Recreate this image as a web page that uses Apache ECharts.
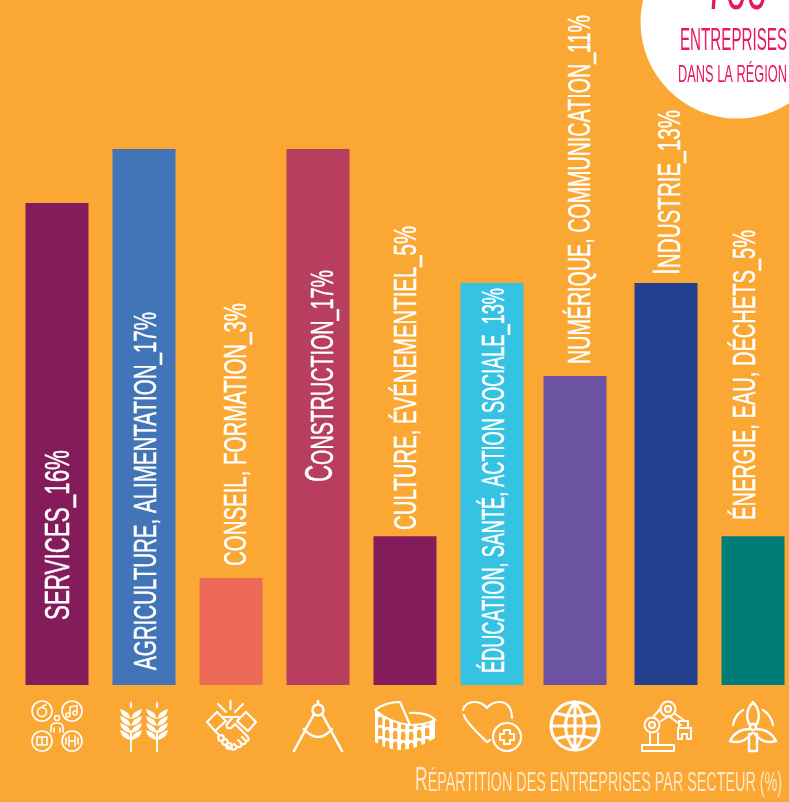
<!DOCTYPE html>
<html>
<head>
<meta charset="utf-8">
<style>
  html, body { margin: 0; padding: 0; background: #fba733; }
  #chart { width: 789px; height: 802px; }
</style>
<script src="https://cdn.jsdelivr.net/npm/echarts@6/dist/echarts.min.js"></script>
</head>
<body>
<div id="chart"></div>
<script>
var sectors = ['Services', 'Agriculture', 'Conseil', 'Construction', 'Culture', 'Éducation', 'Numérique', 'Industrie', 'Énergie'];
// drawn bar heights (the printed percentages are not proportional to them)
var barHeights = [15.29, 17, 3.39, 17, 4.72, 12.75, 9.8, 12.75, 4.72];
var labelBodies = ['SERVICES_16%', 'AGRICULTURE, ALIMENTATION_17%', 'CONSEIL, FORMATION_3%', 'ONSTRUCTION_17%', 'CULTURE, ÉVÉNEMENTIEL_5%', 'ÉDUCATION, SANTÉ, ACTION SOCIALE_13%', 'NUMÉRIQUE, COMMUNICATION_11%', 'NDUSTRIE_13%', 'ÉNERGIE, EAU, DÉCHETS_5%'];
var labelCaps = ['', '', '', 'C', '', '', '', 'I', ''];

var barColors = ['#841c5c', '#4274b8', '#ee6a58', '#b83e60', '#841c5c', '#35c2e3', '#6c53a1', '#233f8e', '#007c78'];
var barShift = [0, 0, 0, 0, 0, 0, -4, 0, 0];
var labelDx = [2.5, 3, 6, 3, 2, 3, 6, 2.5, -7];
var labelRaise = [65, 15, 119, 203, 155, 12, 321, 410, 165];
var labelSpan = [170, 358, 263, 212, 304, 385, 349, 165, 290];
var labelSize = [35, 32, 31, 32, 31, 32, 32, 31, 31];

var FONT = '"Liberation Sans Narrow", "Liberation Sans", sans-serif';
var BG = '#fba733';
var WHITE = '#ffffff';
var PINK = '#e8175d';

var measureCtx = document.createElement('canvas').getContext('2d');
function textWidth(str, size) {
    measureCtx.font = size + 'px ' + FONT;
    return measureCtx.measureText(str).width;
}

// icon helpers, coordinates are px inside a 50x50 box
function circ(x, y, r) {
    return 'M' + (x - r) + ' ' + y + 'A' + r + ' ' + r + ' 0 1 1 ' + (x + r) + ' ' + y + 'A' + r + ' ' + r + ' 0 1 1 ' + (x - r) + ' ' + y + 'Z';
}
function wheat(c) {
    var d = 'M' + c + ' 0Q' + (c + 2.5) + ' 4 ' + c + ' 8Q' + (c - 2.5) + ' 4 ' + c + ' 0Z';
    [9, 16, 23, 30].forEach(function (y) {
        d += 'M' + c + ' ' + (y + 9) + 'Q' + (c - 10) + ' ' + (y + 7) + ' ' + (c - 11) + ' ' + (y - 1) + 'Q' + (c - 2) + ' ' + (y + 1) + ' ' + c + ' ' + (y + 9) + 'Z';
        d += 'M' + c + ' ' + (y + 9) + 'Q' + (c + 10) + ' ' + (y + 7) + ' ' + (c + 11) + ' ' + (y - 1) + 'Q' + (c + 2) + ' ' + (y + 1) + ' ' + c + ' ' + (y + 9) + 'Z';
    });
    return d;
}
function arches() {
    var d = '';
    var columns = [-2, 5, 13, 21, 29, 37, 45];
    var drop = [-1, 1, 2, 3, 3, 1, -1];
    [17, 28, 39].forEach(function (y) {
        columns.forEach(function (x, c) {
            var top = y + drop[c];
            d += 'M' + x + ' ' + (top + 8) + 'V' + (top + 2) + 'A2.2 2.2 0 0 1 ' + (x + 4.4) + ' ' + (top + 2) + 'V' + (top + 8) + 'Z';
        });
    });
    return d;
}

var icons = [
    [
        { w: 1.6, line: circ(10, 10, 10) + circ(40, 10, 10) + circ(10, 40, 10) + circ(40, 40, 10) + circ(25, 17, 2.5) + 'M19 31V26Q19 22 25 22Q31 22 31 26V31M22 27V31M28 27V31' },
        { w: 1.6, line: circ(10, 11, 4.5) + 'M10 6.5Q11 4 14 4' },
        { w: 1.6, line: circ(36, 14, 2) + circ(43, 12, 2) + 'M38 14V6L45 4.5V12' },
        { w: 1.6, line: 'M10 36H5V44H10ZM10 36H15V44H10Z' },
        { w: 1.6, line: 'M34 37V43M46 37V43M37 35V45M43 35V45M37 40H43' }
    ],
    [
        { w: 2, line: 'M12 30V50M38 30V50' },
        { fill: wheat(12) + wheat(38) }
    ],
    [
        { w: 2.2, line: 'M24.5 0V8M12 3L20 11M37 3L29 11M1 21L11 11L20 20L9 30ZM50 21L40 11L31 20L42 30Z' },
        { w: 2.2, line: 'M17 16H27L21 23Q19 28 25 27L29 23L42 36Q44 40 40 40L36 36M40 40Q40 44 36 43L32 39M36 43Q35 47 31 46L28 43M31 46Q29 50 25 48L22 45M27 16H34' },
        { w: 2.2, line: 'M9 30L13 34' + circ(15, 37, 2.8) + circ(19, 41, 2.8) + circ(23, 45, 2.8) }
    ],
    [
        { w: 2.6, line: circ(25, 9, 5.5) + 'M25 0V3.5M21 13L1 50M29 13L49 50M11 28Q25 44 39 28' }
    ],
    [
        { fill: 'M-5 9Q10 22 30 24Q45 24 55 19V37Q35 50 18 49Q3 47 -5 41Z' },
        { hole: arches() },
        { w: 2.2, line: 'M-5 9Q5 1 20 1L30 24M30 12Q48 11 55 19M-5 9Q10 22 30 24Q45 24 55 19' }
    ],
    [
        { w: 2.2, line: 'M-3 14C-1 22 12 33 20 41L23 39M-4 9C-3 4 2 1 7 1C12 1 17 3 20 7C23 3 28 1 33 1C40 1 45 7 45 17' },
        { w: 2.2, line: circ(40, 36, 14) },
        { w: 2, line: 'M37 29H43V33H47V39H43V43H37V39H33V33H37Z' }
    ],
    [
        { w: 3, line: circ(25, 25, 24) + 'M25 1V49M1 25H49M5 12Q25 18 45 12M5 38Q25 32 45 38M25 1Q6 25 25 49M25 1Q44 25 25 49' }
    ],
    [
        { w: 2, line: 'M1 44H33V50H1ZM9 32V44M17 32V44' },
        { w: 2, line: circ(11, 24, 7.5) + circ(11, 24, 3) + circ(27, 8, 7.5) + circ(27, 8, 3) },
        { w: 2, line: 'M13 15L20 7M20 20L28 15M33 12L44 20M29 16L40 24M38 20H47V27H38ZM37 27V38H41V33H46V38H50V27Z' }
    ],
    [
        { w: 2.4, line: circ(25, 26, 3) + 'M25 1Q16 11 21 23H29Q34 11 25 1ZM22 28Q8 28 2 40Q15 44 24 32M28 28Q42 28 48 40Q35 44 26 32M21 33V50H29V33' },
        { w: 2.4, line: 'M5 24Q7 14 15 9M45 24Q43 14 35 9' }
    ]
];

function renderSector(params, api) {
    var i = api.value(0);
    var base = api.coord([i, 0]);
    var top = api.coord([i, api.value(1)]);
    var cx = base[0] + barShift[i];
    var size = labelSize[i];
    var cap = labelCaps[i];
    var width = textWidth(labelBodies[i], size) + (cap ? textWidth(cap, size * 1.2) : 0);
    var children = [{
        type: 'rect',
        shape: { x: cx - 31.5, y: top[1], width: 63, height: base[1] - top[1] },
        style: { fill: barColors[i] }
    }, {
        type: 'text',
        x: cx + labelDx[i],
        y: base[1] - labelRaise[i],
        rotation: Math.PI / 2,
        scaleX: labelSpan[i] / width,
        style: {
            text: (cap ? '{cap|' + cap + '}' : '') + '{body|' + labelBodies[i] + '}',
            rich: {
                cap: { fontFamily: FONT, fontSize: size * 1.2, fill: WHITE, stroke: WHITE, lineWidth: 0.5, verticalAlign: 'bottom' },
                body: { fontFamily: FONT, fontSize: size, fill: WHITE, stroke: WHITE, lineWidth: 0.5, verticalAlign: 'bottom' }
            },
            textAlign: 'left',
            textVerticalAlign: 'middle'
        }
    }];
    icons[i].forEach(function (part) {
        children.push({
            type: 'path',
            x: cx - 25,
            y: base[1] + 16,
            shape: { pathData: part.line || part.fill || part.hole },
            style: part.line
                ? { fill: 'none', stroke: WHITE, lineWidth: part.w, lineCap: 'round', lineJoin: 'round' }
                : { fill: part.fill ? WHITE : BG, stroke: 'none' }
        });
    });
    return { type: 'group', children: children };
}

var footBody = 'ÉPARTITION DES ENTREPRISES PAR SECTEUR (%)';

var myChart = echarts.init(document.getElementById('chart'), null, { width: 789, height: 802 });
myChart.setOption({
    animation: false,
    backgroundColor: BG,
    // 87 px between bar centres, first centre at 57
    grid: { left: 57, top: 149, width: 696, height: 536 },
    xAxis: { type: 'category', data: sectors, boundaryGap: false, show: false },
    yAxis: { type: 'value', min: 0, max: 17, show: false },
    series: [{
        type: 'custom',
        clip: false,
        renderItem: renderSector,
        encode: { x: 0, y: 1 },
        data: barHeights.map(function (v, i) { return [i, v]; })
    }],
    graphic: [
        { type: 'circle', shape: { cx: 737, cy: 22, r: 96.5 }, style: { fill: WHITE }, z: 10 },
        {
            type: 'text', x: 736, y: 22, z: 11, scaleX: 0.62,
            style: { text: '700', fontFamily: FONT, fontSize: 60, fill: PINK, textAlign: 'center', textVerticalAlign: 'bottom' }
        },
        {
            type: 'text', x: 680, y: 41, z: 11,
            scaleX: 107 / textWidth('ENTREPRISES', 31),
            style: { text: 'ENTREPRISES', fontFamily: FONT, fontSize: 31, fill: PINK, textAlign: 'left', textVerticalAlign: 'middle' }
        },
        {
            type: 'text', x: 678, y: 75, z: 11,
            scaleX: 109 / textWidth('DANS LA RÉGION', 24),
            style: { text: 'DANS LA RÉGION', fontFamily: FONT, fontSize: 24, fill: PINK, textAlign: 'left', textVerticalAlign: 'middle' }
        },
        {
            type: 'text', x: 415, y: 781, z: 11,
            scaleX: 367 / (textWidth('R', 33) + textWidth(footBody, 27)),
            style: {
                text: '{cap|R}{body|' + footBody + '}',
                rich: {
                    cap: { fontFamily: FONT, fontSize: 33, fill: '#fde8c8', verticalAlign: 'bottom' },
                    body: { fontFamily: FONT, fontSize: 27, fill: '#fde8c8', verticalAlign: 'bottom' }
                },
                textAlign: 'left',
                textVerticalAlign: 'middle'
            }
        }
    ]
});
</script>
</body>
</html>
